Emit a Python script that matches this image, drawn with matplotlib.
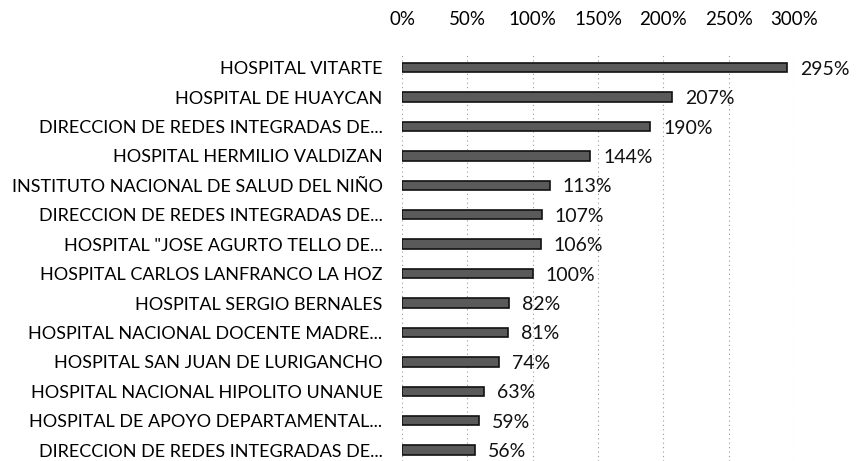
import matplotlib.pyplot as plt
from matplotlib.ticker import FuncFormatter

# Datos
hospitales = [
    "HOSPITAL VITARTE",
    "HOSPITAL DE HUAYCAN",
    "DIRECCION DE REDES INTEGRADAS DE...",
    "HOSPITAL HERMILIO VALDIZAN",
    "INSTITUTO NACIONAL DE SALUD DEL NIÑO",
    "DIRECCION DE REDES INTEGRADAS DE...",
    "HOSPITAL \"JOSE AGURTO TELLO DE...",
    "HOSPITAL CARLOS LANFRANCO LA HOZ",
    "HOSPITAL SERGIO BERNALES",
    "HOSPITAL NACIONAL DOCENTE MADRE...",
    "HOSPITAL SAN JUAN DE LURIGANCHO",
    "HOSPITAL NACIONAL HIPOLITO UNANUE",
    "HOSPITAL DE APOYO DEPARTAMENTAL...",
    "DIRECCION DE REDES INTEGRADAS DE...",
]
porcentajes = [295, 207, 190, 144, 113, 107, 106, 100, 82, 81, 74, 63, 59, 56]
ticks = [0, 50, 100, 150, 200, 250, 300]

plt.rcParams["font.family"] = ["Lato", "DejaVu Sans"]

fig = plt.figure(figsize=(8.6, 4.61), dpi=100)
ax = fig.add_axes([402 / 860, 0, 392 / 860, 408 / 461])

pos = list(range(len(hospitales)))
ax.barh(pos, porcentajes, height=0.32, color="#5a5a5a", edgecolor="#111111", linewidth=1.2, zorder=3)

for y, v in zip(pos, porcentajes):
    ax.text(v + 10, y + 0.05, f"{v}%", va="center", ha="left", fontsize=14, color="#111111")

ax.set_xlim(0, 300)
ax.set_ylim(13.37, -0.5)
ax.set_yticks(pos)
ax.set_yticklabels(hospitales, fontsize=13)
ax.set_xticks(ticks)
ax.xaxis.set_major_formatter(FuncFormatter(lambda x, _: f"{x:.0f}%"))
ax.xaxis.tick_top()
ax.tick_params(axis="x", length=0, pad=18, labelsize=13.5)
ax.tick_params(axis="y", length=0, pad=14)

ax.grid(axis="x", linestyle=(0, (1, 3)), color="#999999", linewidth=0.8, zorder=0)
for s in ax.spines.values():
    s.set_visible(False)

plt.savefig("out.png", dpi=100)
